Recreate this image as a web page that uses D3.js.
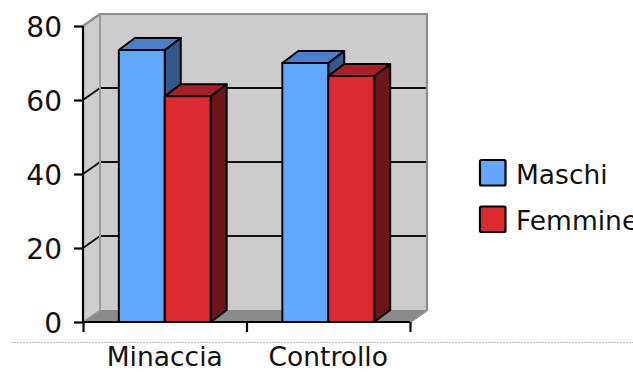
<!DOCTYPE html>
<html>
<head>
<meta charset="utf-8">
<script src="https://cdn.jsdelivr.net/npm/d3@7"></script>
<style>
  html, body { margin: 0; padding: 0; background: #fff; }
  svg { display: block; }
  text { font-family: "DejaVu Sans", Verdana, sans-serif; fill: #111; }
</style>
</head>
<body>
<svg id="chart" width="633" height="372"></svg>
<script>
// Data
const cats = ["Minaccia", "Controllo"];
const series = ["Maschi", "Femmine"];
const valuesMaschi = [73.5, 70];
const valuesFemmine = [61, 66.5];
const yTicks = [0, 20, 40, 60, 80];

// Colours for each series: front face, top face, side face
const palette = {
  Maschi:  { front: "#62a8ff", top: "#4b7fc7", side: "#33598b" },
  Femmine: { front: "#dc2a31", top: "#a82026", side: "#6d161a" }
};

const svg = d3.select("#chart");

// Plot frame
const x0 = 83, x1 = 410, yBase = 322, yTop = 26;
const wallDX = 17, wallDY = -12;   // depth of the walls
const barDX = 16, barDY = -12;     // depth of each bar

const y = d3.scaleLinear().domain([0, 80]).range([yBase, yTop]);
const xCat = d3.scaleBand().domain(cats).range([x0, x1]).padding(0);
const xSer = d3.scaleBand().domain(series).range([0, xCat.bandwidth()])
  .paddingInner(0).paddingOuter(0.78);

const g = svg.append("g");

// Back wall
g.append("rect")
  .attr("x", x0 + wallDX).attr("y", y(80) + wallDY)
  .attr("width", x1 - x0).attr("height", yBase - y(80))
  .attr("fill", "#cccccc").attr("stroke", "none");

// Side wall
g.append("path")
  .attr("d", `M${x0},${yBase} L${x0},${y(80)} L${x0 + wallDX},${y(80) + wallDY} L${x0 + wallDX},${yBase + wallDY} Z`)
  .attr("fill", "#cdcdcd");

// Floor
g.append("path")
  .attr("d", `M${x0},${yBase} L${x1},${yBase} L${x1 + wallDX},${yBase + wallDY} L${x0 + wallDX},${yBase + wallDY} Z`)
  .attr("fill", "#8a8a8a");

// Grid lines on back wall and side wall
const grid = yTicks.filter(t => t > 0 && t < 80);
g.selectAll(".gridBack").data(grid).join("line")
  .attr("x1", x0 + wallDX).attr("x2", x1 + wallDX)
  .attr("y1", d => y(d) + wallDY).attr("y2", d => y(d) + wallDY)
  .attr("stroke", "#111").attr("stroke-width", 2);
g.selectAll(".gridSide").data(grid).join("line")
  .attr("x1", x0).attr("x2", x0 + wallDX)
  .attr("y1", d => y(d)).attr("y2", d => y(d) + wallDY)
  .attr("stroke", "#111").attr("stroke-width", 2);

// Wall frame edges
g.append("path")
  .attr("d", `M${x0},${y(80)} L${x0 + wallDX},${y(80) + wallDY} L${x1 + wallDX},${y(80) + wallDY} L${x1 + wallDX},${yBase + wallDY} L${x1},${yBase}`)
  .attr("fill", "none").attr("stroke", "#8c8c8c").attr("stroke-width", 2.2).attr("stroke-linejoin", "round");
g.append("line")
  .attr("x1", x0 + wallDX).attr("x2", x0 + wallDX)
  .attr("y1", y(80) + wallDY).attr("y2", yBase + wallDY)
  .attr("stroke", "#9a9a9a").attr("stroke-width", 2);
g.append("line")
  .attr("x1", x0).attr("x2", x0 + wallDX)
  .attr("y1", yBase).attr("y2", yBase + wallDY)
  .attr("stroke", "#9a9a9a").attr("stroke-width", 1.5);

// Bars as extruded boxes
const barData = [];
cats.forEach((c, i) => {
  barData.push({ cat: c, ser: "Maschi", v: valuesMaschi[i] });
  barData.push({ cat: c, ser: "Femmine", v: valuesFemmine[i] });
});

const bars = g.selectAll(".bar").data(barData).join("g").attr("class", "bar");
bars.each(function(d) {
  const sel = d3.select(this);
  const bx = xCat(d.cat) + xSer(d.ser);
  const bw = xSer.bandwidth();
  const top = y(d.v);
  const col = palette[d.ser];
  const common = s => s.attr("stroke", "#000").attr("stroke-width", 2).attr("stroke-linejoin", "round");
  // side face
  common(sel.append("path")
    .attr("d", `M${bx + bw},${yBase} L${bx + bw},${top} L${bx + bw + barDX},${top + barDY} L${bx + bw + barDX},${yBase + barDY} Z`)
    .attr("fill", col.side));
  // top face
  common(sel.append("path")
    .attr("d", `M${bx},${top} L${bx + barDX},${top + barDY} L${bx + bw + barDX},${top + barDY} L${bx + bw},${top} Z`)
    .attr("fill", col.top));
  // front face
  common(sel.append("rect")
    .attr("x", bx).attr("y", top).attr("width", bw).attr("height", yBase - top)
    .attr("fill", col.front));
});

// Axes
const yAxis = d3.axisLeft(y).tickValues(yTicks).tickSize(9).tickPadding(12);
const ya = svg.append("g").attr("transform", `translate(${x0},0)`).call(yAxis);
ya.select(".domain").attr("stroke", "#000").attr("stroke-width", 2.2).attr("d", `M0,${yBase}V${y(80)}`);
ya.selectAll(".tick line").attr("stroke", "#000").attr("stroke-width", 2.2);
ya.selectAll(".tick text").attr("font-size", 28).attr("font-family", "DejaVu Sans, sans-serif").attr("fill", "#111").attr("dy", "0.36em");

const xa = svg.append("g").attr("transform", `translate(0,${yBase})`)
  .call(d3.axisBottom(d3.scaleLinear().domain([0, 2]).range([x0, x1])).tickValues([0, 1, 2]).tickSize(10).tickFormat(""));
xa.select(".domain").attr("stroke", "#000").attr("stroke-width", 2.2).attr("d", `M${x0},0H${x1}`);
xa.selectAll(".tick line").attr("stroke", "#000").attr("stroke-width", 2.2);

// Category labels
svg.selectAll(".cat").data(cats).join("text")
  .attr("x", d => xCat(d) + xCat.bandwidth() / 2)
  .attr("y", 366)
  .attr("text-anchor", "middle")
  .attr("font-size", 26.5)
  .text(d => d);

// Dotted separator
svg.append("line")
  .attr("x1", 11).attr("x2", 633).attr("y1", 342.5).attr("y2", 342.5)
  .attr("stroke", "#b8b8b8").attr("stroke-width", 1).attr("stroke-dasharray", "2,1");

// Legend
const legend = svg.append("g").attr("transform", "translate(480,160)");
series.forEach((s, i) => {
  const row = legend.append("g").attr("transform", `translate(0,${i * 46.5})`);
  row.append("rect").attr("x", 0).attr("y", 0).attr("width", 25.5).attr("height", 25.5)
    .attr("rx", 1.5)
    .attr("fill", palette[s].front).attr("stroke", "#000").attr("stroke-width", 2.2);
  row.append("text").attr("x", 36).attr("y", 23.5).attr("font-size", 26.5).text(s);
});
</script>
</body>
</html>
